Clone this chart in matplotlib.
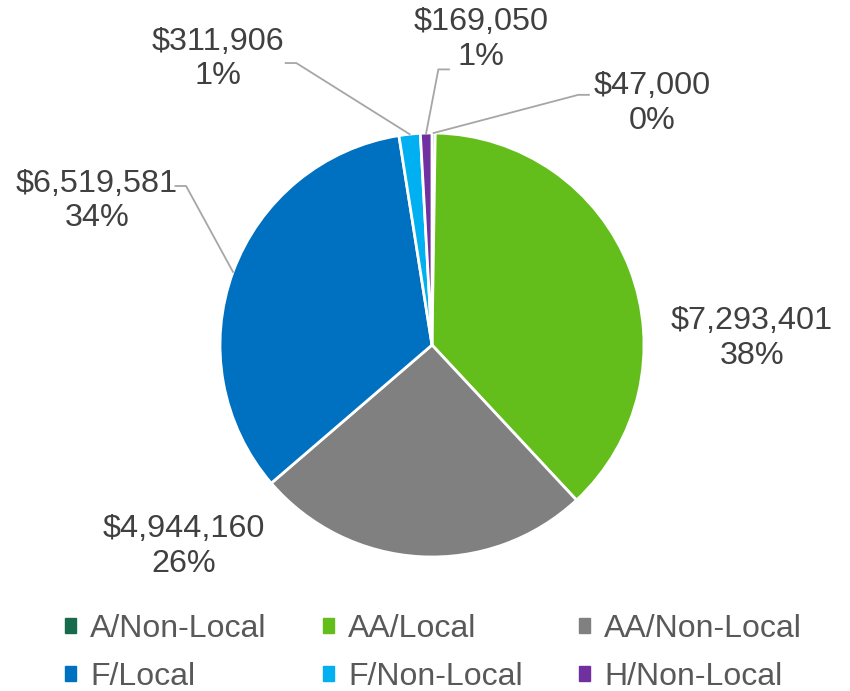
import numpy as np
import matplotlib.pyplot as plt

categories = ["A/Non-Local", "AA/Local", "AA/Non-Local", "F/Local", "F/Non-Local", "H/Non-Local"]
amounts = [47000, 7293401, 4944160, 6519581, 311906, 169050]
percents = [0, 38, 26, 34, 1, 1]
colors = ["#176a4c", "#63be1b", "#808080", "#0070c0", "#00b0f0", "#7030a0"]

# label block centres (data units, radius = 1) and leader elbow points
label_pos = [(1.04, 1.14), (1.51, 0.03), (-1.17, -0.95), (-1.58, 0.68), (-1.01, 1.35), (0.23, 1.44)]
elbows = [(0.69, 1.18), None, None, (-1.16, 0.75), (-0.64, 1.33), (0.03, 1.30)]

plt.rcParams['font.family'] = ['Liberation Sans', 'DejaVu Sans']

fig = plt.figure(figsize=(8.5, 6.91), dpi=100)
ax = fig.add_axes([0, 0, 1, 1])

wedges, _ = ax.pie(amounts, colors=colors, startangle=90, counterclock=False,
                   radius=1.0, wedgeprops=dict(edgecolor="white", linewidth=2))

for w, amt, pct, pos, elb in zip(wedges, amounts, percents, label_pos, elbows):
    txt = f"${amt:,}\n{pct}%"
    ax.text(pos[0], pos[1], txt, ha="center", va="center", fontsize=23.3,
            color="#404040", linespacing=1.2)
    if elb is not None:
        ang = np.deg2rad((w.theta1 + w.theta2) / 2)
        x0, y0 = np.cos(ang) * 1.0, np.sin(ang) * 1.0
        # horizontal stub towards the text
        if elb[0] >= 0:
            x_end = elb[0] + 0.05
        else:
            x_end = elb[0] - 0.05
        ax.plot([x0, elb[0], x_end], [y0, elb[1], elb[1]], color="#a6a6a6", lw=1.3)

ax.set_xlim(-432 / 212, 418 / 212)
ax.set_ylim(-346 / 212, 345 / 212)
ax.set_aspect("equal")
ax.axis("off")

# legend fills column by column, reorder so rows read left to right
order = [0, 3, 1, 4, 2, 5]
handles = [plt.Rectangle((0, 0), 1, 1, color=colors[i]) for i in order]
labels = [categories[i] for i in order]
fig.legend(handles, labels, loc="center", bbox_to_anchor=(0.51, 0.055), ncol=3,
           frameon=False, fontsize=23, handlelength=0.35, handleheight=0.35,
           handletextpad=0.45, columnspacing=1.75, labelspacing=0.55,
           labelcolor="#595959")

fig.savefig("out.png", dpi=100)
